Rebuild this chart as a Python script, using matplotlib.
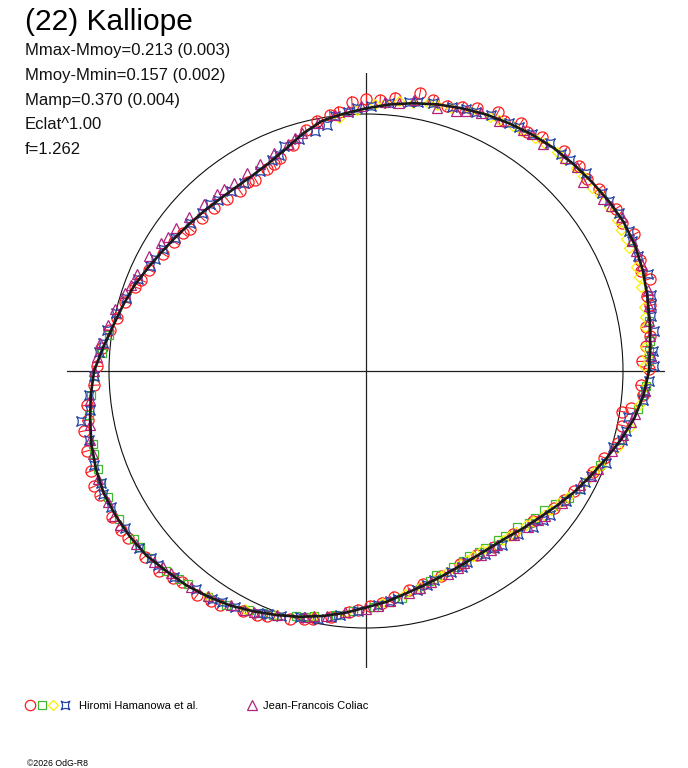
import numpy as np
import matplotlib
matplotlib.use("Agg")
import matplotlib.pyplot as plt
from matplotlib.path import Path
from matplotlib.patches import Circle
from matplotlib.collections import LineCollection

# polar light curve of (22) Kalliope, radius relative to the mean-magnitude circle
curve_deg = [0, 5, 10, 15, 20, 25, 30, 35, 40, 45, 50, 55, 60, 65, 70, 75, 80, 85,
             90, 95, 100, 105, 110, 115, 120, 125, 130, 135, 140, 145, 150, 155, 160, 165,
             170, 175, 180, 185, 190, 195, 200, 205, 210, 215, 220, 225, 230, 235, 240, 245,
             250, 255, 260, 265, 270, 275, 280, 285, 290, 295, 300, 305, 310, 315, 320, 325,
             330, 335, 340, 345, 350, 355, 360]
curve_r = [1.101, 1.110, 1.121, 1.133, 1.146, 1.155, 1.158, 1.153, 1.146, 1.140, 1.134, 1.124,
           1.113, 1.102, 1.088, 1.074, 1.058, 1.041, 1.022, 1.005, 0.988, 0.955, 0.918, 0.893,
           0.880, 0.876, 0.878, 0.885, 0.894, 0.906, 0.921, 0.940, 0.962, 0.980, 1.000, 1.028,
           1.058, 1.075, 1.090, 1.106, 1.118, 1.126, 1.125, 1.122, 1.116, 1.100, 1.088, 1.072,
           1.054, 1.032, 1.011, 0.990, 0.968, 0.945, 0.920, 0.902, 0.880, 0.864, 0.852, 0.843,
           0.839, 0.840, 0.848, 0.865, 0.885, 0.910, 0.938, 0.965, 0.995, 1.028, 1.060, 1.084,
           1.101]

# Hiromi Hamanowa et al. (four sessions)
red_deg = [2, 5, 9, 13, 18, 22, 27, 33, 38, 44, 48, 53, 58, 63, 67, 73, 79, 84, 87, 93, 96, 98,
           104, 108, 112, 116, 120, 125, 129, 133, 137, 141, 146, 150, 155, 160, 164, 168, 175,
           183, 187, 192, 196, 200, 205, 210, 215, 220, 224, 229, 233, 238, 243, 248, 253, 258,
           262, 266, 271, 277, 285, 296, 306, 318, 324, 330, 336, 344, 348, 351, 352, 355, 357,
           0.5, 7, 15, 20, 30, 41, 56, 61, 70, 76, 90, 101, 114, 122, 143, 158, 171, 179, 190,
           203, 213, 227, 236, 246, 256, 268, 274, 281, 290, 301, 312, 327, 340]
red_r = [1.075, 1.095, 1.105, 1.135, 1.160, 1.150, 1.170, 1.160, 1.150, 1.150, 1.150, 1.140,
         1.140, 1.130, 1.110, 1.080, 1.100, 1.070, 1.055, 1.050, 1.015, 1.005, 0.965, 0.925,
         0.895, 0.875, 0.860, 0.855, 0.860, 0.865, 0.875, 0.880, 0.900, 0.910, 0.930, 0.955,
         0.975, 0.990, 1.030, 1.060, 1.095, 1.120, 1.130, 1.140, 1.140, 1.140, 1.130, 1.125,
         1.120, 1.090, 1.090, 1.075, 1.050, 1.030, 1.010, 0.985, 0.965, 0.940, 0.915, 0.885,
         0.860, 0.835, 0.845, 0.875, 0.905, 0.935, 0.965, 1.020, 1.020, 1.010, 1.040, 1.080,
         1.070,
         1.100, 1.115, 1.130, 1.140, 1.150, 1.140, 1.120, 1.110, 1.095, 1.085, 1.060, 0.990,
         0.880, 0.865, 0.890, 0.945, 1.010, 1.045, 1.100, 1.150, 1.135, 1.100, 1.080, 1.040,
         0.995, 0.930, 0.905, 0.870, 0.850, 0.835, 0.855, 0.920, 0.985]
green_deg = [172, 176, 181, 185, 189, 195, 200, 206, 211, 216, 221, 225, 230, 235, 239, 244,
             249, 254, 258, 263, 267, 272, 279, 284, 289, 294, 299, 304, 310, 314, 319, 325,
             331, 338, 345, 352, 357, 2, 6, 10,
             197, 203, 218, 228, 247, 256, 276, 287, 297, 302, 308, 317, 322, 328, 355, 4]
green_r = [1.010, 1.030, 1.060, 1.075, 1.090, 1.100, 1.110, 1.115, 1.120, 1.115, 1.110, 1.100,
           1.080, 1.075, 1.060, 1.035, 1.015, 0.990, 0.975, 0.955, 0.935, 0.920, 0.895, 0.875,
           0.840, 0.835, 0.825, 0.830, 0.840, 0.845, 0.870, 0.900, 0.950, 0.980, 1.030, 1.070,
           1.090, 1.100, 1.110, 1.120,
           1.105, 1.120, 1.115, 1.090, 1.025, 0.985, 0.905, 0.855, 0.830, 0.830, 0.835, 0.865,
           0.880, 0.930, 1.080, 1.105]
yellow_deg = [1, 5, 9, 13, 17, 21, 25, 29, 34, 39, 44, 49, 54, 59, 64, 68, 72, 77, 83, 88, 92,
              96, 235, 243, 250, 258, 265, 274, 280, 284, 288, 292, 296, 300, 305, 309, 313,
              318, 323, 328, 333, 338, 343, 348, 353, 357,
              3, 11, 19, 27, 31, 37, 42, 47, 52, 57, 62, 75, 80, 86, 290, 298, 303, 311, 316,
              321, 326, 336]
yellow_r = [1.080, 1.090, 1.100, 1.110, 1.120, 1.125, 1.130, 1.135, 1.140, 1.130, 1.135, 1.130,
            1.120, 1.110, 1.100, 1.090, 1.075, 1.070, 1.060, 1.040, 1.015, 0.990, 1.070, 1.040,
            1.010, 0.975, 0.945, 0.905, 0.880, 0.865, 0.855, 0.845, 0.835, 0.830, 0.840, 0.845,
            0.855, 0.875, 0.900, 0.925, 0.955, 0.985, 1.020, 1.050, 1.070, 1.090,
            1.095, 1.105, 1.125, 1.135, 1.140, 1.140, 1.135, 1.130, 1.125, 1.115, 1.105, 1.070,
            1.060, 1.045, 0.850, 0.835, 0.830, 0.850, 0.865, 0.890, 0.910, 0.970]
blue_deg = [1, 4, 8, 11, 15, 19, 23, 28, 32, 37, 42, 46, 51, 55, 60, 64, 69, 72, 76, 81, 85, 89,
            94, 99, 102, 106, 110, 114, 118, 123, 127, 131, 136, 140, 145, 149, 154, 158, 163,
            167, 171, 176, 181, 185, 190, 194, 199, 203, 208, 213, 218, 223, 227, 232, 236, 241,
            246, 251, 255, 259, 264, 268, 273, 278, 283, 288, 293, 298, 303, 308, 313, 317, 322,
            327, 331, 335, 339, 343, 347, 350, 354, 358,
            3, 13, 26, 35, 48, 58, 67, 79, 92, 97, 112, 133, 152, 174, 188, 205, 221, 238, 248,
            262, 276, 286, 296, 306, 320, 333, 345, 356]
blue_r = [1.120, 1.120, 1.130, 1.130, 1.150, 1.160, 1.150, 1.160, 1.160, 1.150, 1.150, 1.140,
          1.140, 1.125, 1.115, 1.110, 1.090, 1.080, 1.075, 1.060, 1.045, 1.030, 1.010, 0.970,
          0.955, 0.940, 0.930, 0.900, 0.880, 0.870, 0.875, 0.880, 0.885, 0.895, 0.905, 0.920,
          0.935, 0.955, 0.975, 1.000, 1.020, 1.040, 1.060, 1.080, 1.125, 1.110, 1.120, 1.120,
          1.125, 1.120, 1.120, 1.105, 1.095, 1.075, 1.070, 1.050, 1.030, 1.010, 0.990, 0.985,
          0.955, 0.935, 0.910, 0.895, 0.875, 0.855, 0.850, 0.840, 0.850, 0.860, 0.865, 0.890,
          0.910, 0.930, 0.950, 0.965, 1.000, 1.005, 1.040, 1.035, 1.085, 1.100,
          1.110, 1.140, 1.150, 1.155, 1.135, 1.120, 1.095, 1.065, 1.025, 1.000, 0.905, 0.890,
          0.930, 1.030, 1.085, 1.130, 1.110, 1.060, 1.020, 0.965, 0.900, 0.865, 0.850, 0.850,
          0.900, 0.955, 1.030, 1.090]

# Jean-Francois Coliac
purple_deg = [3, 10, 16, 21, 26, 31, 36, 41, 47, 52, 57, 62, 66, 71, 75, 80, 86, 91, 97, 101,
              105, 109, 113, 117, 121, 125, 130, 134, 139, 143, 148, 152, 157, 162, 166, 170,
              174, 180, 186, 191, 197, 202, 207, 212, 217, 222, 226, 231, 235, 240, 245, 250,
              256, 261, 265, 270, 276, 281, 287, 292, 297, 302, 307, 312, 316, 321, 326, 332,
              337, 342, 346, 351, 356,
              7, 13, 24, 34, 44, 55, 69, 83, 94, 107, 128, 146, 160, 177, 194, 210, 224, 243,
              258, 273, 284, 295, 305, 319, 335, 349]
purple_r = [1.110, 1.120, 1.140, 1.150, 1.150, 1.160, 1.140, 1.120, 1.135, 1.120, 1.120, 1.100,
            1.100, 1.070, 1.060, 1.070, 1.050, 1.030, 1.005, 0.985, 0.960, 0.935, 0.920, 0.905,
            0.900, 0.895, 0.900, 0.905, 0.915, 0.925, 0.940, 0.955, 0.970, 0.985, 1.005, 1.020,
            1.040, 1.060, 1.080, 1.095, 1.110, 1.125, 1.125, 1.130, 1.120, 1.110, 1.095, 1.080,
            1.070, 1.050, 1.035, 1.010, 0.985, 0.965, 0.940, 0.925, 0.900, 0.880, 0.860, 0.850,
            0.840, 0.845, 0.850, 0.860, 0.875, 0.895, 0.920, 0.945, 0.980, 1.005, 1.030, 1.060,
            1.090,
            1.115, 1.130, 1.150, 1.150, 1.140, 1.125, 1.085, 1.050, 1.015, 0.950, 0.900, 0.930,
            0.975, 1.050, 1.105, 1.130, 1.100, 1.045, 0.975, 0.915, 0.870, 0.845, 0.850, 0.885,
            0.965, 1.050]

title = "(22) Kalliope"
stats = ["Mmax-Mmoy=0.213 (0.003)", "Mmoy-Mmin=0.157 (0.002)", "Mamp=0.370 (0.004)",
         "Eclat^1.00", "f=1.262"]
observers = ["Hiromi Hamanowa et al.", "Jean-Francois Coliac"]

RED, GREEN, YELLOW, BLUE, PURPLE = "#ff1c1c", "#40b830", "#f8f000", "#2444a8", "#b0207c"
FONT = "Liberation Sans"


def xy(deg, r):
    a = np.radians(deg)
    return np.asarray(r) * np.cos(a), np.asarray(r) * np.sin(a)


# concave four-pointed star used for the blue series
star = Path([(1, 1), (0, 0.35), (-1, 1), (-0.35, 0), (-1, -1), (0, -0.35), (1, -1),
             (0.35, 0), (1, 1), (1, 1)],
            [Path.MOVETO, Path.CURVE3, Path.LINETO, Path.CURVE3, Path.LINETO, Path.CURVE3,
             Path.LINETO, Path.CURVE3, Path.LINETO, Path.CLOSEPOLY])

W, H = 688, 768
cx, cy, R = 366, 371, 257.0
fig = plt.figure(figsize=(W / 100, H / 100), dpi=100)
x0, x1, y0, y1 = 67, 665, 73, 668
ax = fig.add_axes([x0 / W, 1 - y1 / H, (x1 - x0) / W, (y1 - y0) / H])
ax.set_xlim((x0 - cx) / R, (x1 - cx) / R)
ax.set_ylim((cy - y1) / R, (cy - y0) / R)
ax.axis("off")

ax.axhline(0, color="#222222", lw=0.9, zorder=1)
ax.axvline(0, color="#222222", lw=0.9, zorder=1)
ax.add_patch(Circle((0, 0), 1.0, fill=False, ec="#111111", lw=0.8, zorder=1))

mk = dict(ls="none", mfc="none", mew=0.9)
ax.plot(*xy(red_deg, red_r), marker="o", ms=8.0, mec=RED, zorder=2, **mk)
# radial error ticks inside the circles
rx0, ry0 = xy(red_deg, np.array(red_r) - 0.021)
rx1, ry1 = xy(red_deg, np.array(red_r) + 0.021)
ax.add_collection(LineCollection(np.stack([np.c_[rx0, ry0], np.c_[rx1, ry1]], axis=1),
                                 colors=RED, lw=0.8, zorder=2))
ax.plot(*xy(green_deg, green_r), marker="s", ms=6.4, mec=GREEN, zorder=3, **mk)
ax.plot(*xy(yellow_deg, yellow_r), marker="D", ms=5.6, mec=YELLOW, zorder=3, **mk)
ax.plot(*xy(blue_deg, blue_r), marker=star, ms=6.8, mec=BLUE, zorder=4, **mk)
ax.plot(*xy(purple_deg, purple_r), marker="^", ms=7.4, mec=PURPLE, zorder=4, **mk)

ax.plot(*xy(curve_deg, curve_r), color="#1a1a1a", lw=1.9, zorder=5)

# header texts
fig.text(25 / W, 1 - 30.5 / H, title, family=FONT, fontsize=21.5, va="baseline")
for i, s in enumerate(stats):
    fig.text(25 / W, 1 - (55 + 24.8 * i) / H, s, family=FONT, fontsize=12,
             va="baseline", color="#111111")

# legend row
ly = 1 - 705 / H
fig.lines.append(plt.Line2D([30 / W], [ly], transform=fig.transFigure, marker="o", ms=7.5,
                            mec=RED, **mk))
fig.lines.append(plt.Line2D([42 / W], [ly], transform=fig.transFigure, marker="s", ms=6.2,
                            mec=GREEN, **mk))
fig.lines.append(plt.Line2D([53 / W], [ly], transform=fig.transFigure, marker="D", ms=5.2,
                            mec=YELLOW, **mk))
fig.lines.append(plt.Line2D([65 / W], [ly], transform=fig.transFigure, marker=star, ms=6.2,
                            mec=BLUE, **mk))
fig.lines.append(plt.Line2D([252 / W], [ly], transform=fig.transFigure, marker="^", ms=7.2,
                            mec=PURPLE, **mk))
fig.text(79 / W, 1 - 709.3 / H, observers[0], family=FONT, fontsize=8, va="baseline")
fig.text(263 / W, 1 - 709.3 / H, observers[1], family=FONT, fontsize=8, va="baseline")
fig.text(27 / W, 1 - 766 / H, "\u00a92026 OdG-R8", family=FONT, fontsize=6.3, va="baseline")

fig.savefig("out.png", dpi=100, facecolor="white")
